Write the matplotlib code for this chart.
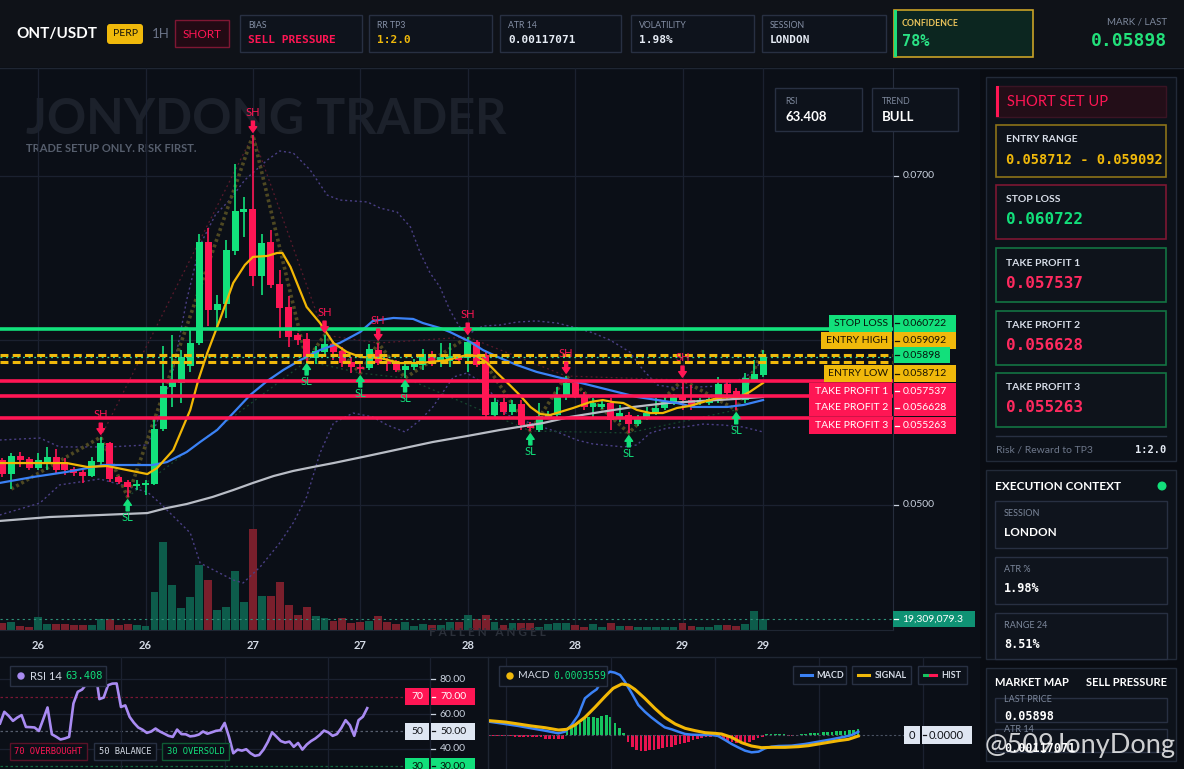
import matplotlib
matplotlib.use("Agg")
import matplotlib.pyplot as plt
from matplotlib.patches import Rectangle, FancyBboxPatch, Circle

plt.rcParams["font.family"] = ["Lato", "DejaVu Sans"]
MONO = ["DejaVu Sans Mono"]
SANS = ["Lato", "DejaVu Sans"]

W, H = 1184, 769

# ---------------- data (ONT/USDT, 1H) ----------------
opens = [0.05274, 0.05188, 0.05298, 0.05280, 0.05225, 0.05249, 0.05292, 0.05261, 0.05219, 0.05201,
         0.05176, 0.05261, 0.05377, 0.05170, 0.05140, 0.05116, 0.05122, 0.05128, 0.05462, 0.05717,
         0.05742, 0.05845, 0.05985, 0.06599, 0.06185, 0.06222, 0.06544, 0.06781, 0.06799, 0.06392,
         0.06599, 0.06344, 0.06204, 0.06033, 0.06009, 0.05894, 0.05930, 0.05979, 0.05936, 0.05869,
         0.05839, 0.05833, 0.05942, 0.05875, 0.05863, 0.05821, 0.05839, 0.05851, 0.05918, 0.05869,
         0.05875, 0.05900, 0.05894, 0.05991, 0.05912, 0.05547, 0.05626, 0.05565, 0.05614, 0.05492,
         0.05456, 0.05535, 0.05547, 0.05657, 0.05742, 0.05669, 0.05596, 0.05596, 0.05620, 0.05529,
         0.05547, 0.05492, 0.05535, 0.05559, 0.05590, 0.05620, 0.05657, 0.05638, 0.05620, 0.05620,
         0.05638, 0.05736, 0.05693, 0.05638, 0.05760, 0.05790]
highs = [0.05286, 0.05316, 0.05322, 0.05292, 0.05316, 0.05353, 0.05340, 0.05286, 0.05231, 0.05213,
         0.05292, 0.05413, 0.05383, 0.05176, 0.05152, 0.05152, 0.05152, 0.05523, 0.05967, 0.06033,
         0.05942, 0.06076, 0.06647, 0.06684, 0.06277, 0.06611, 0.07073, 0.06872, 0.07249, 0.06647,
         0.06672, 0.06429, 0.06271, 0.06046, 0.06046, 0.05967, 0.06033, 0.05997, 0.05961, 0.05900,
         0.05869, 0.05979, 0.05985, 0.05894, 0.05882, 0.05869, 0.05888, 0.05948, 0.05936, 0.05985,
         0.05985, 0.05912, 0.06021, 0.06003, 0.05930, 0.05650, 0.05650, 0.05638, 0.05638, 0.05505,
         0.05620, 0.05571, 0.05717, 0.05784, 0.05760, 0.05687, 0.05650, 0.05638, 0.05650, 0.05608,
         0.05565, 0.05547, 0.05596, 0.05650, 0.05657, 0.05675, 0.05760, 0.05729, 0.05650, 0.05663,
         0.05778, 0.05760, 0.05711, 0.05802, 0.05882, 0.05942]
lows = [0.05170, 0.05097, 0.05231, 0.05213, 0.05213, 0.05213, 0.05195, 0.05182, 0.05176, 0.05134,
        0.05170, 0.05231, 0.05140, 0.05128, 0.05049, 0.05091, 0.05061, 0.05122, 0.05450, 0.05596,
        0.05620, 0.05809, 0.05973, 0.06088, 0.06082, 0.06137, 0.06520, 0.06629, 0.06331, 0.06277,
        0.06319, 0.06015, 0.05961, 0.05973, 0.05875, 0.05857, 0.05900, 0.05882, 0.05839, 0.05802,
        0.05802, 0.05821, 0.05851, 0.05815, 0.05809, 0.05772, 0.05821, 0.05821, 0.05845, 0.05839,
        0.05839, 0.05863, 0.05809, 0.05839, 0.05535, 0.05535, 0.05547, 0.05547, 0.05456, 0.05450,
        0.05444, 0.05523, 0.05535, 0.05638, 0.05650, 0.05578, 0.05535, 0.05584, 0.05456, 0.05505,
        0.05438, 0.05480, 0.05517, 0.05547, 0.05578, 0.05608, 0.05578, 0.05578, 0.05608, 0.05608,
        0.05620, 0.05638, 0.05578, 0.05620, 0.05748, 0.05778]
closes = [0.05188, 0.05298, 0.05274, 0.05225, 0.05274, 0.05292, 0.05213, 0.05213, 0.05195, 0.05176,
          0.05268, 0.05377, 0.05158, 0.05140, 0.05109, 0.05128, 0.05134, 0.05462, 0.05723, 0.05748,
          0.05900, 0.05985, 0.06599, 0.06185, 0.06222, 0.06550, 0.06787, 0.06799, 0.06392, 0.06593,
          0.06337, 0.06198, 0.06021, 0.06003, 0.05900, 0.05936, 0.05979, 0.05930, 0.05863, 0.05839,
          0.05827, 0.05948, 0.05863, 0.05857, 0.05821, 0.05845, 0.05857, 0.05918, 0.05869, 0.05900,
          0.05906, 0.05882, 0.05991, 0.05851, 0.05547, 0.05626, 0.05565, 0.05614, 0.05486, 0.05468,
          0.05541, 0.05553, 0.05663, 0.05742, 0.05669, 0.05596, 0.05620, 0.05614, 0.05517, 0.05559,
          0.05492, 0.05535, 0.05559, 0.05590, 0.05626, 0.05657, 0.05638, 0.05596, 0.05638, 0.05644,
          0.05736, 0.05681, 0.05638, 0.05772, 0.05796, 0.05898]
volumes_m = [12.8, 14.0, 7.0, 5.8, 22.8, 10.5, 10.5, 10.5, 8.8, 8.8,
             8.8, 19.3, 19.8, 8.8, 10.5, 8.8, 7.0, 66.7, 154.5, 79.0,
             38.6, 57.9, 114.1, 87.8, 35.1, 40.4, 103.6, 49.2, 177.3, 59.7,
             59.7, 84.3, 43.9, 26.3, 40.4, 24.6, 21.1, 15.8, 21.1, 12.3,
             14.0, 15.8, 24.6, 14.0, 10.5, 14.0, 7.0, 10.5, 8.8, 8.8,
             14.0, 14.0, 26.3, 19.3, 26.3, 14.0, 8.8, 11.8, 12.8, 12.8,
             5.8, 10.5, 11.8, 11.8, 8.8, 5.8, 10.5, 4.7, 12.8, 7.0,
             7.0, 4.7, 4.7, 4.7, 4.7, 4.7, 12.8, 7.0, 4.7, 5.8,
             8.8, 8.8, 7.0, 10.5, 33.4, 19.3090793]

tick_idx = [4, 16, 28, 40, 52, 64, 76, 85]
tick_labels = ["26", "26", "27", "27", "28", "28", "29", "29"]

ema_fast_idx = [-0.3, 7.2, 9.5, 11.7, 16.2, 17.3, 19.1, 21.0, 21.9, 22.9, 24.3, 25.8, 27.1, 28.0, 29.6,
                30.7, 31.3, 32.2, 34.0, 35.5, 37.0, 38.5, 40.0, 42.2, 44.4, 46.7, 49.7, 51.9, 53.0, 54.2,
                55.3, 56.7, 57.8, 59.0, 60.1, 61.2, 62.3, 63.8, 65.7, 67.1, 68.2, 69.4, 70.9, 72.4, 73.8,
                75.4, 76.8, 78.3, 79.9, 81.3, 82.4, 83.5, 85.0]
ema_fast = [0.05255, 0.05255, 0.05231, 0.05237, 0.05188, 0.05225, 0.05334, 0.05578, 0.05760, 0.05924,
            0.06125, 0.06350, 0.06459, 0.06508, 0.06514, 0.06532, 0.06532, 0.06447, 0.06204, 0.06106,
            0.05985, 0.05930, 0.05900, 0.05894, 0.05863, 0.05863, 0.05881, 0.05912, 0.05906, 0.05863,
            0.05802, 0.05729, 0.05669, 0.05596, 0.05553, 0.05547, 0.05565, 0.05590, 0.05626, 0.05638,
            0.05626, 0.05620, 0.05578, 0.05559, 0.05559, 0.05590, 0.05602, 0.05626, 0.05650, 0.05657,
            0.05657, 0.05687, 0.05742]
ema_mid_idx = [-0.3, 3.4, 7.2, 11.3, 16.8, 18.4, 20.6, 22.1, 24.0, 25.8, 27.7, 29.6, 31.4, 33.3, 35.5,
               37.7, 40.0, 41.4, 43.7, 45.9, 47.0, 48.9, 50.0, 52.3, 53.7, 55.6, 57.5, 59.7, 62.0, 64.2,
               66.5, 68.7, 70.9, 73.2, 75.4, 77.2, 79.1, 81.0, 82.8, 85.0]
ema_mid = [0.05134, 0.05170, 0.05201, 0.05243, 0.05243, 0.05261, 0.05322, 0.05383, 0.05456, 0.05559,
           0.05669, 0.05754, 0.05821, 0.05881, 0.05942, 0.05985, 0.06052, 0.06119, 0.06137, 0.06131,
           0.06106, 0.06076, 0.06052, 0.05991, 0.05942, 0.05894, 0.05851, 0.05809, 0.05778, 0.05748,
           0.05717, 0.05687, 0.05657, 0.05638, 0.05620, 0.05596, 0.05596, 0.05596, 0.05608, 0.05638]
ema_slow_idx = [-0.3, 5.3, 10.9, 16.2, 18.4, 20.6, 23.5, 25.8, 28.0, 30.3, 32.5, 34.7, 37.0, 40.8, 44.4,
                48.1, 51.9, 55.6, 60.4, 63.4, 66.8, 70.5, 74.3, 78.0, 81.7, 85.0]
ema_slow = [0.04903, 0.04927, 0.04939, 0.04951, 0.04982, 0.05006, 0.05049, 0.05091, 0.05134, 0.05176,
            0.05207, 0.05231, 0.05255, 0.05298, 0.05340, 0.05383, 0.05419, 0.05456, 0.05498, 0.05535,
            0.05565, 0.05596, 0.05620, 0.05632, 0.05644, 0.05657]
bb_upper_idx = [-0.3, 4.2, 6.4, 12.0, 16.2, 17.3, 19.1, 20.6, 22.1, 23.8, 25.4, 27.1, 29.6, 31.0, 32.5,
                34.4, 36.3, 37.7, 40.8, 42.2, 44.1, 45.6, 46.7, 47.8, 48.9, 50.0, 51.1, 52.3, 53.7, 55.6,
                57.5, 59.7, 62.0, 64.2, 66.0, 67.9, 70.1, 71.6, 73.2, 75.4, 77.6, 79.9, 82.1, 83.5, 85.0]
bb_upper = [0.05395, 0.05407, 0.05353, 0.05353, 0.05365, 0.05505, 0.05821, 0.06246, 0.06581, 0.06763,
            0.06854, 0.06976, 0.07097, 0.07152, 0.07140, 0.07036, 0.06884, 0.06854, 0.06842, 0.06805,
            0.06781, 0.06690, 0.06532, 0.06410, 0.06325, 0.06185, 0.06082, 0.06046, 0.06088, 0.06094,
            0.06112, 0.06119, 0.06106, 0.06076, 0.06046, 0.06003, 0.05930, 0.05821, 0.05729, 0.05711,
            0.05717, 0.05723, 0.05754, 0.05796, 0.05881]
bb_lower_idx = [-0.3, 4.2, 6.4, 10.9, 16.2, 17.6, 21.0, 22.1, 25.8, 26.9, 28.8, 31.0, 32.5, 34.0, 35.5,
                37.0, 39.2, 41.4, 43.0, 45.0, 46.7, 48.1, 50.4, 51.9, 53.7, 55.3, 56.4, 59.0, 62.0, 64.2,
                66.0, 69.4, 70.9, 72.4, 74.3, 76.1, 78.3, 80.5, 82.8, 85.0]
bb_lower = [0.04939, 0.05012, 0.05122, 0.05158, 0.05079, 0.05012, 0.04830, 0.04647, 0.04544, 0.04526,
            0.04623, 0.04769, 0.04891, 0.05049, 0.05316, 0.05498, 0.05559, 0.05535, 0.05486, 0.05444,
            0.05517, 0.05596, 0.05778, 0.05802, 0.05742, 0.05638, 0.05547, 0.05498, 0.05444, 0.05395,
            0.05371, 0.05353, 0.05365, 0.05438, 0.05468, 0.05474, 0.05492, 0.05486, 0.05474, 0.05444]

sh_idx = [11, 28, 36, 42, 52, 63, 76]
sl_idx = [14, 34, 40, 45, 59, 70, 82]
zigzag_idx = [1, 11, 14, 28, 34, 36, 40, 42, 45, 52, 59, 63, 70, 76, 82, 85]

level_names = ["STOP LOSS", "ENTRY HIGH", "ENTRY LOW", "TAKE PROFIT 1", "TAKE PROFIT 2", "TAKE PROFIT 3"]
level_prices = [0.060722, 0.059092, 0.058712, 0.057537, 0.056628, 0.055263]
last_price = 0.05898

rsi = [54.6, 61.3, 59.0, 56.1, 58.0, 59.4, 52.6, 52.5, 52.3, 50.3,
       57.0, 63.8, 48.4, 47.0, 45.4, 46.0, 46.9, 66.1, 72.8, 74.1,
       77.2, 80.0, 86.2, 68.6, 69.5, 76.6, 77.5, 77.6, 64.1, 65.0,
       58.4, 55.0, 52.3, 51.0, 49.2, 50.0, 51.7, 50.0, 48.8, 47.5,
       46.9, 51.1, 48.5, 48.4, 47.2, 47.5, 48.2, 50.0, 48.7, 49.5,
       50.4, 50.7, 54.9, 47.0, 37.5, 39.6, 39.0, 39.8, 37.5, 36.0,
       36.5, 39.6, 44.0, 49.5, 47.0, 44.5, 43.6, 44.2, 41.2, 43.4,
       39.6, 42.5, 44.5, 46.0, 48.0, 50.5, 49.5, 47.5, 48.5, 52.0,
       56.5, 53.6, 47.5, 56.5, 58.5, 63.408]

macd_idx = [0, 3.7, 6.8, 9.8, 12.9, 16.0, 17.5, 19.0, 20.6, 22.1, 23.7, 24.8, 25.9, 27.1, 27.9, 29.0,
            30.2, 31.3, 32.9, 34.4, 35.9, 37.4, 39.0, 40.5, 42.1, 43.6, 45.2, 46.7, 49.0, 51.3, 52.8,
            54.4, 55.9, 57.4, 59.0, 60.5, 62.1, 63.6, 65.1, 66.7, 69.7, 72.8, 75.9, 78.9, 82.0, 83.6, 85.1]
macd_line = [0.001424, 0.001175, 0.000961, 0.000712, 0.000463, 0.000178, 0.000356, 0.001068, 0.002136,
             0.003916, 0.004521, 0.004877, 0.005696, 0.006515, 0.006764, 0.006657, 0.006408, 0.005696,
             0.004450, 0.003204, 0.002492, 0.001887, 0.001317, 0.000819, 0.000605, 0.000356, 0.000107,
             0.000036, 0.0, 0.0, -0.000107, -0.000534, -0.000961, -0.001317, -0.001673, -0.001851,
             -0.001780, -0.001424, -0.001246, -0.001175, -0.001139, -0.000961, -0.000712, -0.000463,
             -0.000178, 0.0, 0.000356]
signal_idx = [0, 3.7, 6.8, 9.8, 12.9, 16.0, 17.9, 19.8, 22.1, 24.4, 26.7, 28.6, 30.6, 32.1, 33.6, 35.9,
              38.2, 40.5, 42.9, 45.2, 47.5, 49.8, 52.1, 53.6, 55.9, 58.2, 60.5, 62.8, 65.1, 68.2, 71.3,
              73.6, 75.9, 78.2, 80.5, 82.8, 85.1]
signal_line = [0.001531, 0.001388, 0.001175, 0.000961, 0.000783, 0.000534, 0.000605, 0.001068, 0.001887,
               0.002955, 0.004094, 0.004984, 0.005447, 0.005340, 0.004877, 0.003916, 0.002848, 0.001887,
               0.001175, 0.000712, 0.000463, 0.000249, 0.000178, 0.000107, -0.000249, -0.000819,
               -0.001175, -0.001353, -0.001317, -0.001317, -0.001246, -0.001139, -0.000961, -0.000783,
               -0.000605, -0.000463, -0.000107]
macd_hist = [-0.00014, -0.00014, -0.00014, -0.00014, -0.00014, -0.00014,
             -0.00025, -0.00025, -0.00025, -0.00025, -0.00025, -0.00025, -0.00025,
             -0.00043, -0.00043, -0.00043, -0.00043, -0.00043,
             0.00071, 0.00089, 0.00107, 0.00132, 0.00178, 0.00196, 0.00189, 0.00178, 0.00203, 0.00214,
             0.00196, 0.00132, 0.00071, 0.00018,
             -0.00071, -0.00125, -0.00160, -0.00167, -0.00167, -0.00160, -0.00160, -0.00153, -0.00142,
             -0.00132, -0.00125, -0.00107, -0.00096, -0.00082, -0.00071, -0.00053, -0.00046, -0.00036,
             -0.00025, -0.00018, -0.00011, -0.00018, -0.00046, -0.00061, -0.00071, -0.00082, -0.00089,
             -0.00082, -0.00071, -0.00053, -0.00036, -0.00018,
             0.00007, 0.00007, 0.00007, 0.00011, 0.00007, -0.00011, -0.00011, -0.00011, 0.00011, 0.00014,
             0.00018, 0.00021, 0.00025, 0.00028, 0.00032, 0.00036, 0.00043, 0.00043, 0.00046, 0.00050,
             0.00053, 0.00061]
macd_now = 0.0003559

header_stats = [("BIAS", "SELL PRESSURE"), ("RR TP3", "1:2.0"), ("ATR 14", "0.00117071"),
                ("VOLATILITY", "1.98%"), ("SESSION", "LONDON")]
confidence = "78%"
context_rows = [("SESSION", "LONDON"), ("ATR %", "1.98%"), ("RANGE 24", "8.51%")]

# ---------------- style ----------------
GREEN = "#12e07b"
RED = "#ff1654"
GOLD = "#f0b90b"
GRID = "#1b2130"
PANEL = "#0b0f17"
TXT = "#d5dbe6"
MUTED = "#7d889c"
LINE = "#1f2633"

fig = plt.figure(figsize=(W / 100, H / 100), dpi=100)
fig.patch.set_facecolor("#080b11")


def frac(x0, y0, x1, y1):
    return [x0 / W, 1 - y1 / H, (x1 - x0) / W, (y1 - y0) / H]


def canvas(z):
    a = fig.add_axes([0, 0, 1, 1], zorder=z)
    a.set_xlim(0, W)
    a.set_ylim(H, 0)
    a.axis("off")
    return a


def box(a, x0, y0, x1, y1, fc, ec="none", lw=1.0, z=1, alpha=1.0):
    a.add_patch(Rectangle((x0, y0), x1 - x0, y1 - y0, facecolor=fc, edgecolor=ec,
                          linewidth=lw, zorder=z, alpha=alpha))


def txt(a, x, y, s, size, color, weight="normal", ha="left", mono=False, z=5, va="center", **kw):
    a.text(x, y, s, fontsize=size, color=color, fontweight=weight, ha=ha, va=va,
           family=MONO if mono else SANS, zorder=z, **kw)


def ypx(axis, v):
    return H - axis.transData.transform((0, v))[1]


bg = canvas(0)
fg = canvas(10)

# ---------------- backgrounds ----------------
box(bg, 0, 0, W, 67, "#0f1218")
bg.plot([0, W], [67.5, 67.5], color=LINE, lw=1)
box(bg, 0, 68, 980, H, PANEL)
box(bg, 980, 68, W, H, "#090c12")
bg.plot([0, 980], [657, 657], color=LINE, lw=1)
bg.plot([487.5, 487.5], [657, H], color=LINE, lw=1)

txt(bg, 26, 134, "JONYDONG TRADER", 35, "#1c212b", "bold", va="baseline", z=2)
txt(bg, 26, 149, "TRADE SETUP ONLY. RISK FIRST.", 8, "#565e6d", "bold", z=2)
txt(fg, 487, 632, "F A L L E N   A N G E L", 8.5, "#2b303a", "bold", ha="center", z=1)

# ---------------- top bar ----------------
txt(bg, 16, 34, "ONT/USDT", 11, "white", "bold")
bg.add_patch(FancyBboxPatch((107, 24), 36, 20, boxstyle="round,pad=0,rounding_size=3",
                            facecolor=GOLD, edgecolor="none"))
txt(bg, 125, 34, "PERP", 7.5, "#15130a", ha="center")
txt(bg, 152, 34, "1H", 9.5, "#6b7488")
box(bg, 175, 20, 229, 47, "#220a14", "#7e1733", 1)
txt(bg, 202, 34, "SHORT", 8.5, RED, ha="center")

stat_x = [(240, 362), (369, 492), (500, 621), (631, 754), (762, 886)]
stat_colors = [RED, GOLD, "#e6ecf5", "#e6ecf5", "#e6ecf5"]
for (label, value), (x0, x1), col in zip(header_stats, stat_x, stat_colors):
    box(bg, x0, 15, x1, 52, "#0e131c", "#283042", 1)
    txt(bg, x0 + 8, 26, label, 6.3, "#8590a6")
    txt(bg, x0 + 8, 40, value, 8, col, "bold", mono=True)

box(bg, 894, 10, 1033, 57, "#0c2620", "#c9a227", 1.2)
box(bg, 894, 10, 897, 57, "#1fdc7a", z=2)
txt(bg, 902, 23, "CONFIDENCE", 6.3, "#e9c25b", "bold")
txt(bg, 902, 41, confidence, 11, "#2ae184", "bold", mono=True)
txt(bg, 1167, 22, "MARK / LAST", 7, MUTED, ha="right")
txt(bg, 1167, 41, f"{last_price:.5f}", 13, "#22e07a", "bold", ha="right", mono=True)

# ---------------- right panel ----------------
box(bg, 986, 77, 1176, 461, "#0c1119", "#222a38")
box(bg, 996, 86, 1166, 117, "#230e18", "#3a1424")
box(bg, 996, 86, 999, 117, RED, z=2)
txt(bg, 1007, 101.5, "SHORT SET UP", 10.5, RED)
setup_rows = [("ENTRY RANGE", f"{level_prices[2]:.6f} - {level_prices[1]:.6f}", GOLD, "#8c7318", 125, 177, 9.8),
              ("STOP LOSS", f"{level_prices[0]:.6f}", GREEN, "#7c1733", 185, 239, 11.5),
              ("TAKE PROFIT 1", f"{level_prices[3]:.6f}", "#ff2a5f", "#137443", 248, 302, 11.5),
              ("TAKE PROFIT 2", f"{level_prices[4]:.6f}", "#ff2a5f", "#137443", 311, 365, 11.5),
              ("TAKE PROFIT 3", f"{level_prices[5]:.6f}", "#ff2a5f", "#137443", 373, 427, 11.5)]
for label, value, col, ec, y0, y1, size in setup_rows:
    box(bg, 996, y0, 1166, y1, "#0e131b", ec, 1.2)
    txt(bg, 1006, y0 + 15, label, 7.5, "#d8dee9", "bold")
    txt(bg, 1006, y0 + 35, value, size, col, "bold", mono=True)
bg.plot([996, 1166], [436, 436], color="#283042", lw=1)
txt(bg, 996, 450, "Risk / Reward to TP3", 7.5, "#6d778a")
txt(bg, 1166, 450, "1:2.0", 7.5, "#e6ecf5", "bold", ha="right", mono=True)

box(bg, 986, 470, 1176, 659, "#0d121a", "#222a38")
txt(bg, 995, 486, "EXECUTION CONTEXT", 8.5, "white", "bold")
bg.add_patch(Circle((1162, 486), 3.8, color=GREEN, zorder=3))
for (label, value), (y0, y1) in zip(context_rows, [(501, 548), (557, 604), (613, 659)]):
    box(bg, 995, y0, 1167, y1, "#0f141d", "#283042")
    txt(bg, 1004, y0 + 12, label, 6.5, MUTED)
    txt(bg, 1004, y0 + 32, value, 8.5, "white", "bold", mono=(value != "LONDON"))

box(bg, 986, 668, 1176, 761, "#0d121a", "#222a38")
txt(bg, 995, 683, "MARKET MAP", 8, "white", "bold")
txt(bg, 1167, 683, "SELL PRESSURE", 8, "white", "bold", ha="right")
for (label, value), (y0, y1) in zip([("LAST PRICE", f"{last_price:.5f}"), ("ATR 14", "0.00117071")],
                                    [(698, 722), (729, 752)]):
    box(bg, 995, y0, 1167, y1, "#0f141d", "#283042")
    txt(bg, 1004, y0 + 1, label, 6.5, MUTED)
    txt(bg, 1004, y0 + 19, value, 8.5, "white", "bold", mono=True)
txt(fg, 985, 746, "@509JonyDong", 19.5, "white", alpha=0.8)

# ---------------- main price chart ----------------
n = len(closes)
xs = list(range(n))
ax = fig.add_axes(frac(0, 68, 893, 630), zorder=3)
vax = fig.add_axes(frac(0, 68, 893, 630), zorder=2)
for a in (ax, vax):
    a.set_facecolor("none")
    a.set_xlim(-0.26, 99.52)
    for s in a.spines.values():
        s.set_visible(False)
ax.set_ylim(0.042401, 0.076565)
vax.set_ylim(0, 986)
ax.set_yticks([])
vax.set_yticks([])
ax.set_xticks(tick_idx, tick_labels)
ax.tick_params(axis="x", length=0, pad=7, labelsize=8, labelcolor=TXT)
for lab in ax.get_xticklabels():
    lab.set_fontweight("bold")
ax.spines["bottom"].set_visible(True)
ax.spines["bottom"].set_color(LINE)
ax.spines["right"].set_visible(True)
ax.spines["right"].set_color("#262d3c")
vax.set_xticks(tick_idx)
vax.tick_params(length=0, labelbottom=False)
vax.grid(axis="x", color=GRID, lw=0.9)
for p in (0.05, 0.06, 0.07):
    ax.axhline(p, color=GRID, lw=0.9, zorder=0)

up = [c >= o for o, c in zip(opens, closes)]
vax.bar(xs, volumes_m, width=0.88, color=["#0d5c4b" if u else "#7a1f2c" for u in up], zorder=2)
vax.plot([-0.26, 99.52], [volumes_m[-1]] * 2, color="#2f8f78", lw=0.8, ls=(0, (2, 3)), zorder=3)

ax.plot(bb_upper_idx, bb_upper, color="#4a3f85", lw=1.0, ls=(0, (1.5, 2)), zorder=1)
ax.plot(bb_lower_idx, bb_lower, color="#4a3f85", lw=1.0, ls=(0, (1.5, 2)), zorder=1)
ax.plot(sh_idx, [highs[i] for i in sh_idx], color="#5a1a2c", lw=0.9, ls=(0, (1.5, 2.5)), zorder=1)
ax.plot(sl_idx, [lows[i] for i in sl_idx], color="#17472f", lw=0.9, ls=(0, (1.5, 2.5)), zorder=1)
zz = [lows[i] if k % 2 == 0 else highs[i] for k, i in enumerate(zigzag_idx)]
ax.plot(zigzag_idx, zz, color="#4e4822", lw=2.6, ls=(0, (0.8, 0.8)), zorder=2)

ccol = [GREEN if u else RED for u in up]
ax.vlines(xs, lows, highs, colors=ccol, lw=1.2, zorder=4)
ax.bar(xs, [abs(c - o) for o, c in zip(opens, closes)], bottom=[min(o, c) for o, c in zip(opens, closes)],
       width=0.78, color=ccol, zorder=4)

ax.plot(ema_slow_idx, ema_slow, color="#b9bdc6", lw=1.6, zorder=5)
ax.plot(ema_mid_idx, ema_mid, color="#3b82f6", lw=1.6, zorder=5)
ax.plot(ema_fast_idx, ema_fast, color="#f2b705", lw=1.6, zorder=5)

level_colors = [GREEN, GOLD, GOLD, RED, RED, RED]
for p, col in zip(level_prices, level_colors):
    if col == GOLD:
        ax.axhline(p, color=col, lw=2.2, ls=(0, (2.6, 1.4)), zorder=6)
    else:
        ax.axhline(p, color=col, lw=2.6, zorder=6)
ax.axhline(last_price, color="#2fd99a", lw=0.9, ls=(0, (1.5, 3)), zorder=7)

arrow = "simple,head_length=0.4,head_width=0.55,tail_width=0.22"
for i in sh_idx:
    ax.annotate("", xy=(i, highs[i]), xytext=(0, 10), textcoords="offset points", zorder=8,
                arrowprops=dict(arrowstyle=arrow, color=RED, shrinkA=0, shrinkB=2))
    ax.annotate("SH", xy=(i, highs[i]), xytext=(0, 16), textcoords="offset points", ha="center",
                va="center", color=RED, fontsize=8, zorder=8)
for i in sl_idx:
    ax.annotate("", xy=(i, lows[i]), xytext=(0, -10), textcoords="offset points", zorder=8,
                arrowprops=dict(arrowstyle=arrow, color=GREEN, shrinkA=0, shrinkB=2))
    ax.annotate("SL", xy=(i, lows[i]), xytext=(0, -15), textcoords="offset points", ha="center",
                va="center", color=GREEN, fontsize=8, zorder=8)

# price axis labels and level tags
for p in (0.07, 0.05):
    y = ypx(ax, p)
    fg.plot([894, 898], [y, y], color="#c9d1de", lw=0.9, zorder=1)
    txt(fg, 903, y, f"{p:.4f}", 7.5, "#c9d1de", z=1)

tag_tc = ["#06140c", "#1b1403", "#1b1403", "white", "white", "white"]
tag_left = [829, 821, 824, 809, 809, 809]
tag_shift = [-5.6, -14.9, 12.3, 10.0, 12.0, 7.5]
for name, p, fc, tc, x0, dy in zip(level_names, level_prices, level_colors, tag_tc, tag_left, tag_shift):
    yc = ypx(ax, p) + dy
    box(fg, x0, yc - 8.5, 892, yc + 8.5, fc, z=3)
    box(fg, 894, yc - 8.5, 956, yc + 8.5, fc, z=3)
    txt(fg, 888, yc, name, 7.5, tc, ha="right", z=4)
    fg.plot([895, 899], [yc, yc], color=tc, lw=0.9, zorder=4)
    txt(fg, 903, yc, f"{p:.6f}", 7.5, tc, z=4)
yc = ypx(ax, last_price) - 1.9
box(fg, 894, yc - 8, 950, yc + 8, GREEN, z=3)
fg.plot([895, 899], [yc, yc], color="#06140c", lw=0.9, zorder=4)
txt(fg, 903, yc, f"{last_price:.5f}", 7.5, "#06140c", z=4)

yv = ypx(vax, volumes_m[-1])
box(fg, 893, yv - 8, 975, yv + 8, "#0f9274", z=3)
fg.plot([894, 898], [yv, yv], color="white", lw=0.9, zorder=4)
txt(fg, 902, yv, f"{volumes_m[-1] * 1e6:,.1f}", 7.5, "white", z=4)

box(fg, 775, 88, 862, 131, "#0d121b", "#283042")
txt(fg, 785, 101, "RSI", 6.3, MUTED)
txt(fg, 785, 117, f"{rsi[-1]:.3f}", 9.5, "white", "bold")
box(fg, 872, 88, 958, 131, "#0d121b", "#283042")
txt(fg, 882, 101, "TREND", 6.3, MUTED)
txt(fg, 882, 117, "BULL", 9.5, "white", "bold")

# ---------------- RSI panel ----------------
rax = fig.add_axes(frac(0, 657, 487, 769), zorder=3)
rax.set_facecolor("none")
rax.axis("off")
rax.set_xlim(0, 487 / 4.32)
rax.set_ylim(28.45, 92.8)
for v in (80, 60, 40):
    rax.plot([0, 99.5], [v, v], color=GRID, lw=0.9)
for v, c in ((70, "#7a1633"), (50, "#555d6d"), (30, "#11683c")):
    rax.plot([0, 93.7], [v, v], color=c, lw=0.9, ls=(0, (2, 2)))
for t in (28, 52, 76, 99.5):
    rax.axvline(t, color=GRID, lw=0.9)
rax.plot(xs, rsi, color="#a98bf2", lw=1.9)

for v in (80, 60, 40):
    y = ypx(rax, v)
    fg.plot([431, 435], [y, y], color="#c9d1de", lw=0.9)
    txt(fg, 440, y, f"{v:.2f}", 7.5, "#c9d1de")
for v, fc, tc in ((70, RED, "white"), (50, "#dfe6f2", "#111318"), (30, GREEN, "#06140c")):
    y = ypx(rax, v)
    box(fg, 405, y - 8.5, 429, y + 8.5, fc, z=3)
    txt(fg, 417, y, f"{v}", 7.5, tc, ha="center")
    box(fg, 431, y - 8.5, 475, y + 8.5, fc, z=3)
    fg.plot([432, 435], [y, y], color=tc, lw=0.9, zorder=4)
    txt(fg, 440, y, f"{v:.2f}", 7.5, tc)

box(fg, 10, 666, 106, 686, "#0d121b", "#283042")
fg.add_patch(Circle((21, 676), 3, color="#a98bf2", zorder=4))
txt(fg, 30, 676, "RSI 14", 8, TXT)
txt(fg, 65, 676, f"{rsi[-1]:.3f}", 7.5, GREEN, mono=True)
for label, x0, x1, ec, col in (("70 OVERBOUGHT", 10, 87, "#5a1228", RED),
                               ("50 BALANCE", 94, 156, "#283042", TXT),
                               ("30 OVERSOLD", 162, 229, "#0f5a34", GREEN)):
    box(fg, x0, 743, x1, 760, "#0b0f17", ec, 1)
    txt(fg, (x0 + x1) / 2, 751.5, label, 6.3, col, ha="center", mono=True)

# ---------------- MACD panel ----------------
mx = fig.add_axes(frac(489, 657, 980, 769), zorder=3)
mx.set_facecolor("none")
mx.axis("off")
mx.set_xlim(0, 491 / 4.34)
mx.set_ylim(-0.00363, 0.00833)
for t in (4, 28, 52, 76, 100):
    mx.axvline(t, color=GRID, lw=0.9)
mx.plot([0, 95.6], [0, 0], color="#4a5262", lw=0.8, ls=(0, (2, 2)))
mx.bar(xs, macd_hist, width=0.62, color=["#16c35f" if h >= 0 else "#e8134f" for h in macd_hist])
mx.plot(macd_idx, macd_line, color="#3b82f6", lw=1.8)
mx.plot(signal_idx, signal_line, color="#f2b705", lw=2.2)

box(fg, 499, 666, 607, 686, "#0d121b", "#283042")
fg.add_patch(Circle((510, 676), 3, color=GOLD, zorder=4))
txt(fg, 518, 676, "MACD", 7.5, TXT)
txt(fg, 553, 676, f"{macd_now:.7f}", 7, GREEN, mono=True)
for label, x0, x1 in (("MACD", 793, 846), ("SIGNAL", 852, 911), ("HIST", 918, 967)):
    box(fg, x0, 666, x1, 684, "#0d121b", "#283042")
    txt(fg, x0 + 23, 675, label, 6.5, TXT, "bold")
fg.plot([801, 812], [675, 675], color="#3b82f6", lw=2.2, zorder=4)
fg.plot([858, 869], [675, 675], color=GOLD, lw=2.2, zorder=4)
fg.plot([924, 930], [675, 675], color="#16c35f", lw=2.2, zorder=4)
fg.plot([930, 936], [675, 675], color=RED, lw=2.2, zorder=4)
y0 = ypx(mx, 0)
box(fg, 904, y0 - 9, 920, y0 + 9, "#dfe6f2", z=3)
txt(fg, 912, y0, "0", 8, "#111318", ha="center")
box(fg, 922, y0 - 9, 972, y0 + 9, "#dfe6f2", z=3)
fg.plot([923, 926], [y0, y0], color="#111318", lw=0.9, zorder=4)
txt(fg, 929, y0, f"{0:.4f}", 8, "#111318")

fig.savefig("out.png", dpi=100, facecolor=fig.get_facecolor())
